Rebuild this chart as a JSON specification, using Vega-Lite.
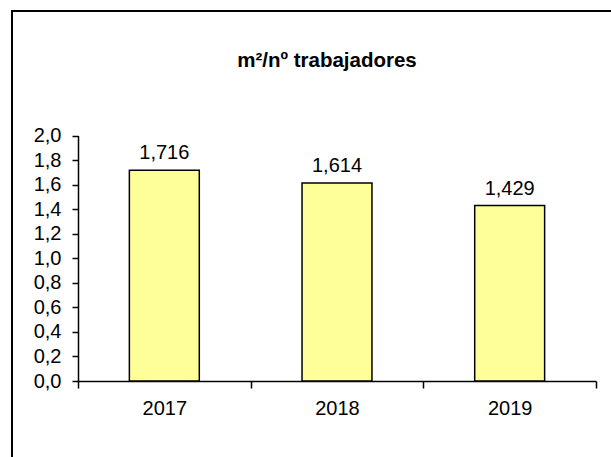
{
  "$schema": "https://vega.github.io/schema/vega-lite/v6.json",
  "autosize": "none",
  "padding": {"left": 12, "top": 11, "right": 0, "bottom": 0},
  "width": 630,
  "height": 470,
  "background": "white",
  "config": {
    "font": "Liberation Sans",
    "locale": {"number": {"decimal": ",", "thousands": ".", "grouping": [3], "currency": ["", " €"]}},
    "view": {"stroke": "black", "strokeWidth": 2},
    "axis": {"grid": false, "domainColor": "black", "tickColor": "black", "labelColor": "black", "labelFont": "Liberation Sans", "labelFontSize": 20, "domainWidth": 1.5, "tickWidth": 1.5, "title": null}
  },
  "title": {"text": "m²/nº trabajadores", "font": "Liberation Sans", "fontSize": 20.5, "fontWeight": "bold", "color": "black", "anchor": "middle", "offset": -60},
  "data": {"values": [
    {"year": "2017", "value": 1.716},
    {"year": "2018", "value": 1.614},
    {"year": "2019", "value": 1.429}
  ]},
  "encoding": {
    "x": {"field": "year", "type": "ordinal", "scale": {"range": [66, 584], "paddingInner": 0, "paddingOuter": 0},
      "axis": {"labelAngle": 0, "tickBand": "extent", "tickSize": 7, "labelPadding": 10, "offset": -100}},
    "y": {"field": "value", "type": "quantitative", "scale": {"domain": [0, 2], "range": [370, 124.5], "nice": false},
      "axis": {"values": [0, 0.2, 0.4, 0.6, 0.8, 1.0, 1.2, 1.4, 1.6, 1.8, 2.0], "format": ".1f", "tickSize": 6, "labelPadding": 11, "offset": -66}}
  },
  "layer": [
    {"mark": {"type": "bar", "width": {"band": 0.405}, "fill": "#FFFF99", "stroke": "black", "strokeWidth": 1.5}},
    {"mark": {"type": "text", "baseline": "bottom", "dy": -7, "fontSize": 20, "font": "Liberation Sans", "color": "black"},
      "encoding": {"text": {"field": "value", "type": "quantitative", "format": ".3f"}}}
  ]
}
